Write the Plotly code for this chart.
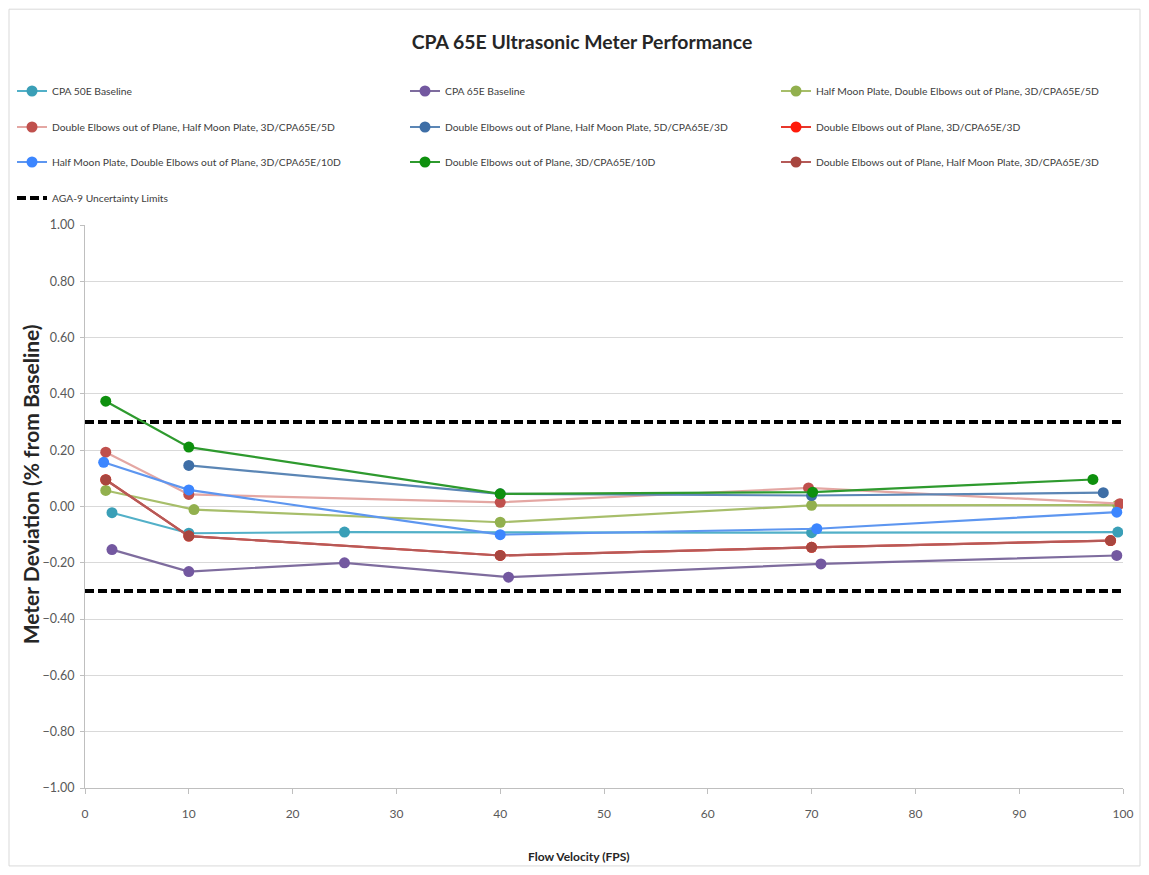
import plotly.graph_objects as go

# ---------------- data ----------------
title_text = "CPA 65E Ultrasonic Meter Performance"
x_title = "Flow Velocity (FPS)"
y_title = "Meter Deviation (% from Baseline)"

cpa50_x = [2.6, 10, 25, 70, 99.5]
cpa50_y = [-0.022, -0.095, -0.091, -0.093, -0.091]

cpa65_x = [2.6, 10, 25, 40.8, 70.9, 99.4]
cpa65_y = [-0.153, -0.231, -0.200, -0.251, -0.204, -0.174]

hm_de_3d5d_x = [2, 10.5, 40, 70, 99.5]
hm_de_3d5d_y = [0.057, -0.011, -0.056, 0.004, 0.005]

de_hm_3d5d_x = [2, 10, 40, 69.7, 99.7]
de_hm_3d5d_y = [0.193, 0.043, 0.015, 0.066, 0.010]

de_hm_5d3d_x = [10, 40, 70, 98.1]
de_hm_5d3d_y = [0.146, 0.045, 0.039, 0.049]

de_3d3d_x = [2, 10, 40, 70, 98.8]
de_3d3d_y = [0.095, -0.105, -0.174, -0.145, -0.121]

hm_de_3d10d_x = [1.8, 10, 40, 70.5, 99.4]
hm_de_3d10d_y = [0.157, 0.059, -0.100, -0.079, -0.020]

de_3d10d_x = [2, 10, 40, 70.1, 97.1]
de_3d10d_y = [0.374, 0.211, 0.045, 0.051, 0.096]

de_hm_3d3d_x = [2, 10, 40, 70, 98.8]
de_hm_3d3d_y = [0.095, -0.105, -0.174, -0.145, -0.121]

limit_x = [0, 100]
limit_upper = [0.30, 0.30]
limit_lower = [-0.30, -0.30]

names = [
    "CPA 50E Baseline",
    "CPA 65E Baseline",
    "Half Moon Plate, Double Elbows out of Plane, 3D/CPA65E/5D",
    "Double Elbows out of Plane, Half Moon Plate, 3D/CPA65E/5D",
    "Double Elbows out of Plane, Half Moon Plate, 5D/CPA65E/3D",
    "Double Elbows out of Plane, 3D/CPA65E/3D",
    "Half Moon Plate, Double Elbows out of Plane, 3D/CPA65E/10D",
    "Double Elbows out of Plane, 3D/CPA65E/10D",
    "Double Elbows out of Plane, Half Moon Plate, 3D/CPA65E/3D",
]
limit_name = "AGA-9 Uncertainty Limits"

FONT = "Lato, 'Open Sans', sans-serif"

# ---------------- figure ----------------
fig = go.Figure()

# page body adds an 8px margin, so figure coords = screen coords - 8
W, H = 1133, 859
plot_left, plot_right, plot_top, plot_bottom = 77, 1115, 216.5, 780
pw = plot_right - plot_left
ph = plot_bottom - plot_top
col_px = [4, 397, 768]
row_px = [83, 119, 154, 190]

def legend_key(i):
    return "legend" if i == 0 else f"legend{i+1}"

legend_layouts = {}
for i in range(10):
    r, c = divmod(i, 3)
    legend_layouts[legend_key(i)] = dict(
        xref="container", yref="container",
        x=col_px[c] / W, y=1 - row_px[r] / H, xanchor="left", yanchor="middle",
        orientation="h", bgcolor="rgba(0,0,0,0)",
        font=dict(family=FONT, size=10.3, color="#404040"),
        itemwidth=30,
    )

# limits first (drawn beneath)
fig.add_trace(go.Scatter(x=limit_x, y=limit_upper, mode="lines", name=limit_name,
                         line=dict(color="black", width=4, dash="9px,4px"),
                         legend=legend_key(9), showlegend=True, hoverinfo="skip"))
fig.add_trace(go.Scatter(x=limit_x, y=limit_lower, mode="lines", name=limit_name,
                         line=dict(color="black", width=4, dash="9px,4px"),
                         legend=legend_key(9), showlegend=False, hoverinfo="skip"))

series = [
    (cpa50_x, cpa50_y, "#52B0C8", "#3A9FB7"),
    (cpa65_x, cpa65_y, "#7E6C9E", "#7358A0"),
    (hm_de_3d5d_x, hm_de_3d5d_y, "#A7BE6A", "#92B04E"),
    (de_hm_3d5d_x, de_hm_3d5d_y, "#E4A7A3", "#C0504D"),
    (de_hm_5d3d_x, de_hm_5d3d_y, "#5B86B5", "#3E6EA6"),
    (de_3d3d_x, de_3d3d_y, "#E8372B", "#FF1A0A"),
    (hm_de_3d10d_x, hm_de_3d10d_y, "#5D96F0", "#3C86FF"),
    (de_3d10d_x, de_3d10d_y, "#2E9A2E", "#0E900E"),
    (de_hm_3d3d_x, de_hm_3d3d_y, "#B55A58", "#A8463F"),
]

for i, (xs, ys, lc, mc) in enumerate(series):
    fig.add_trace(go.Scatter(
        x=xs, y=ys, mode="lines+markers", name=names[i],
        line=dict(color=lc, width=2.2),
        marker=dict(color=mc, size=11, symbol="circle"),
        legend=legend_key(i), showlegend=True,
    ))

annotations = [
    dict(text="<b>" + x_title + "</b>", xref="paper", yref="paper",
         x=(571 - plot_left) / pw, y=(plot_bottom - 849) / ph,
         xanchor="center", yanchor="middle", showarrow=False,
         font=dict(family=FONT, size=12, color="#262626")),
    dict(text="<b>" + y_title + "</b>", xref="paper", yref="paper",
         x=(22 - plot_left) / pw, y=(plot_bottom - 476) / ph,
         xanchor="center", yanchor="middle", showarrow=False, textangle=-90,
         font=dict(family=FONT, size=21, color="#262626")),
]

fig.update_layout(
    width=W, height=H, showlegend=True,
    paper_bgcolor="white", plot_bgcolor="white",
    margin=dict(l=plot_left, r=W - plot_right, t=plot_top, b=H - plot_bottom,
                autoexpand=False),
    title=dict(text="<b>" + title_text + "</b>", xref="container", x=574 / W,
               xanchor="center", y=1 - 34 / H, yanchor="middle",
               font=dict(family=FONT, size=19.4, color="#262626")),
    font=dict(family=FONT, color="#595959"),
    annotations=annotations,
    shapes=[dict(type="rect", xref="paper", yref="paper",
                 x0=(1 - plot_left) / pw, x1=(W - 1 - plot_left) / pw,
                 y0=(plot_bottom - (H - 1)) / ph, y1=(plot_bottom - 0.5) / ph,
                 line=dict(color="#D9D9D9", width=1), layer="below")],
    **legend_layouts,
)

fig.update_xaxes(
    range=[0, 100], dtick=10, tick0=0,
    showgrid=False, zeroline=False,
    showline=True, linecolor="#BFBFBF", linewidth=1,
    ticks="outside", ticklen=5, tickcolor="#BFBFBF", ticklabelstandoff=10,
    tickfont=dict(family=FONT, size=12, color="#595959"),
)
fig.update_yaxes(
    range=[-1, 1], dtick=0.2, tick0=0, tickformat=".2f",
    showgrid=True, gridcolor="#D9D9D9", gridwidth=1, zeroline=False,
    showline=True, linecolor="#BFBFBF", linewidth=1,
    ticks="outside", ticklen=4, tickcolor="#BFBFBF", ticklabelstandoff=3,
    tickfont=dict(family=FONT, size=12.5, color="#595959"),
)

fig.write_html("out.html")
